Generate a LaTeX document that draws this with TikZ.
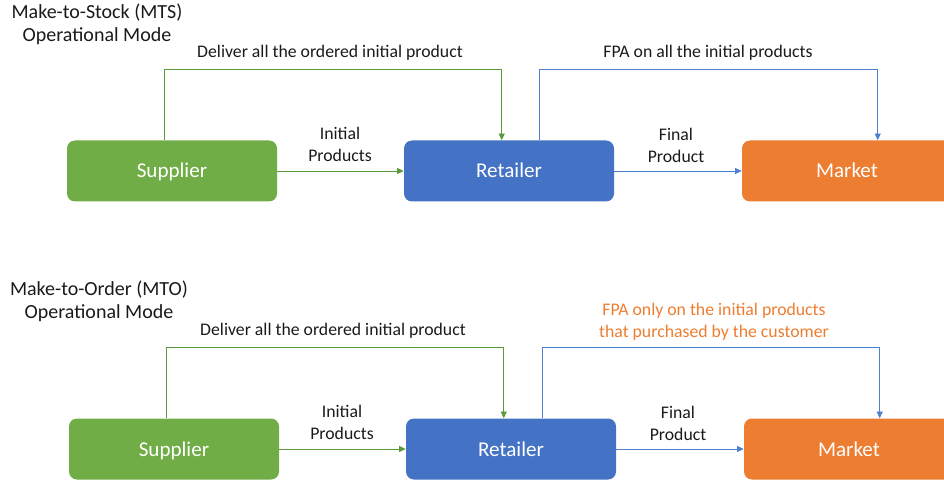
\documentclass[tikz,border=0pt]{standalone}
\usepackage{fontspec}
\setmainfont{Carlito}
\usetikzlibrary{arrows.meta,calc}
\definecolor{supgreen}{HTML}{70AD47}
\definecolor{retblue}{HTML}{4472C4}
\definecolor{mktorange}{HTML}{ED7D31}
\definecolor{linegreen}{HTML}{5B9A3A}
\definecolor{lineblue}{HTML}{4F7FD0}
\definecolor{txt}{HTML}{1A1A1A}
\tikzset{
  box/.style={rounded corners=6pt, minimum width=157.5pt, minimum height=45.75pt,
    text=white, font=\fontsize{15.8}{18}\selectfont, inner sep=0pt,
    text height=10.5pt, text depth=0pt},
  title/.style={font=\fontsize{15}{17.4}\selectfont, align=center, text=txt},
  lbl/.style={font=\fontsize{13.3}{16.5}\selectfont, align=center, text=txt},
  tip/.style={-{Triangle[length=5pt,width=4.5pt]}},
  gline/.style={draw=linegreen, line width=0.6pt, tip},
  bline/.style={draw=lineblue, line width=0.6pt, tip},
}
\begin{document}
\begin{tikzpicture}[x=0.75pt,y=-0.75pt]
\useasboundingbox (0,0) rectangle (944,484);
\clip (0,0) rectangle (944,484);

% ---------- Make-to-Stock ----------
\node[title] (t1) at (97,24) {Make-to-Stock (MTS)\\Operational Mode};
\node[box, fill=supgreen]  (s1) at (172,171) {Supplier};
\node[box, fill=retblue]   (r1) at (509,171) {Retailer};
\node[box, fill=mktorange] (m1) at (847,171) {Market};

\draw[gline] ($(s1.north west)+(98,0)$) -- ++(0,-71) -| ($(r1.north west)+(98,0)$);
\draw[bline] ($(r1.north west)+(136,0)$) -- ++(0,-71) -| ($(m1.north west)+(136,0)$);
\draw[gline] (s1) -- (r1);
\draw[bline] (r1) -- (m1);

\node[lbl] (d1) at (330,53) {Deliver all the ordered initial product};
\node[lbl] (f1) at (708,53) {FPA on all the initial products};
\node[lbl] (i1) at (340,144) {Initial\\Products};
\node[lbl] (p1) at (676,145) {Final\\Product};

% ---------- Make-to-Order ----------
\node[title] (t2) at (99,301) {Make-to-Order (MTO)\\Operational Mode};
\node[box, fill=supgreen]  (s2) at (174,449) {Supplier};
\node[box, fill=retblue]   (r2) at (511,449) {Retailer};
\node[box, fill=mktorange] (m2) at (849,449) {Market};

\draw[gline] ($(s2.north west)+(98,0)$) -- ++(0,-71) -| ($(r2.north west)+(98,0)$);
\draw[bline] ($(r2.north west)+(137,0)$) -- ++(0,-71) -| ($(m2.north west)+(136,0)$);
\draw[gline] (s2) -- (r2);
\draw[bline] (r2) -- (m2);

\node[lbl] (d2) at (333,331) {Deliver all the ordered initial product};
\node[lbl, text=mktorange] (f2) at (714,322) {FPA only on the initial products\\that purchased by the customer};
\node[lbl] (i2) at (342,422) {Initial\\Products};
\node[lbl] (p2) at (678,423) {Final\\Product};
\end{tikzpicture}
\end{document}
